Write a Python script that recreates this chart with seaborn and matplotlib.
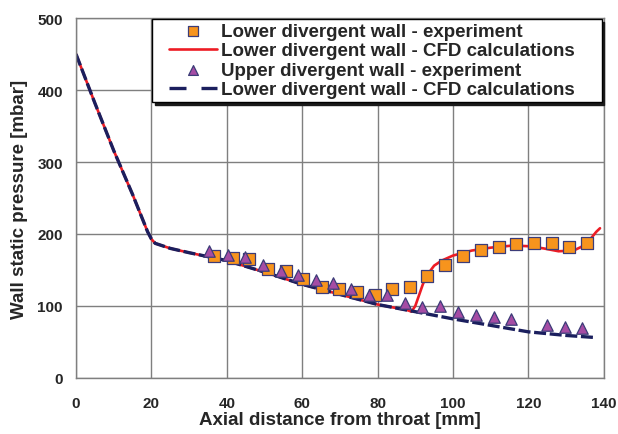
import numpy as np
import pandas as pd
import matplotlib
matplotlib.use("Agg")
import matplotlib.pyplot as plt
import seaborn as sns
from matplotlib.lines import Line2D
from matplotlib.collections import PathCollection
from matplotlib.legend_handler import HandlerLine2D, HandlerPathCollection

# ---- data ----
lower_exp_x = [36.7, 41.6, 45.9, 50.8, 55.7, 60.3, 65.2, 69.8, 74.5, 79.4, 83.8, 88.6,
               93.2, 97.9, 102.7, 107.4, 112.2, 116.8, 121.5, 126.2, 130.8, 135.6]
lower_exp_y = [169, 167, 165, 152, 148, 138, 127, 124, 120, 115, 124, 126,
               142, 157, 169, 178, 182, 186, 187, 187, 182, 187]

upper_exp_x = [35.4, 40.2, 44.8, 49.5, 54.3, 58.8, 63.6, 68.2, 73.0, 77.8, 82.5, 87.2,
               91.8, 96.6, 101.4, 106.1, 110.8, 115.4, 125.0, 129.6, 134.2]
upper_exp_y = [176, 171, 168, 157, 149, 143, 136, 132, 124, 115, 115, 104,
               99, 100, 91, 88, 85, 82, 73, 71, 70]

lower_cfd_x = [0, 5, 10, 15, 19, 20, 21, 25, 30, 40, 50, 60, 70, 80, 88, 89, 90, 91, 92,
               93, 95, 97, 100, 105, 110, 116, 120, 124, 128, 132, 134, 136, 138, 139]
lower_cfd_y = [450, 382, 316, 255, 203, 193, 187, 180, 174, 163, 147, 130, 116, 102, 94, 92,
               100, 115, 130, 142, 156, 163, 170, 177, 181, 184, 183, 180, 176, 177, 182,
               190, 203, 208]

upper_cfd_x = [0, 5, 10, 15, 19, 20, 21, 25, 30, 40, 50, 60, 70, 80, 88, 95, 100, 110,
               120, 130, 138]
upper_cfd_y = [450, 382, 316, 255, 203, 193, 187, 180, 174, 163, 147, 130, 116, 102, 94,
               87, 82, 73, 64, 59, 56]

labels = ["Lower divergent wall - experiment",
          "Lower divergent wall - CFD calculations",
          "Upper divergent wall - experiment",
          "Lower divergent wall - CFD calculations"]

x_ticks = [0, 20, 40, 60, 80, 100, 120, 140]
y_ticks = [0, 100, 200, 300, 400, 500]

# ---- style ----
sns.set_style("white")
plt.rcParams['font.family'] = ['Liberation Sans', 'DejaVu Sans']
plt.rcParams['font.weight'] = 'bold'

RED = '#ED1C24'
NAVY = '#1B1F5E'

fig = plt.figure(figsize=(6.18, 4.35), dpi=100)
ax = fig.add_axes([0.123, 0.129, 0.854, 0.827])

sns.lineplot(x=lower_cfd_x, y=lower_cfd_y, ax=ax, color=RED, linewidth=1.9,
             sort=False, label=labels[1], zorder=2)
sns.lineplot(x=upper_cfd_x, y=upper_cfd_y, ax=ax, color=NAVY, linewidth=2.4,
             sort=False, zorder=2.5, linestyle=(0, (3.6, 1.1)))
sns.scatterplot(x=lower_exp_x, y=lower_exp_y, ax=ax, marker='s', s=64, color='#F7941D',
                edgecolor='#3C3C78', linewidth=0.9, label=labels[0], zorder=3)
sns.scatterplot(x=upper_exp_x, y=upper_exp_y, ax=ax, marker='^', s=68, color='#A54CA4',
                edgecolor='#3C3C78', linewidth=0.9, label=labels[2], zorder=4)

ax.set_xlim(0, 140)
ax.set_ylim(0, 500)
ax.set_xticks(x_ticks)
ax.set_yticks(y_ticks)
ax.grid(True, color='#7F7F7F', linewidth=1.0)
ax.set_axisbelow(True)
for s in ax.spines.values():
    s.set_color('#7F7F7F')
    s.set_linewidth(1.0)
ax.tick_params(axis='both', length=0, labelsize=11)
ax.tick_params(axis='x', pad=13)
ax.tick_params(axis='y', pad=9.5)
for t in ax.get_xticklabels() + ax.get_yticklabels():
    t.set_fontweight('bold')

ax.set_xlabel("Axial distance from throat [mm]", fontsize=13.5, fontweight='bold', labelpad=1)
ax.set_ylabel("Wall static pressure [mbar]", fontsize=13.5, fontweight='bold', labelpad=7)

handles, labs = ax.get_legend_handles_labels()
h_sq = handles[labs.index(labels[0])]
h_red = handles[labs.index(labels[1])]
h_tri = handles[labs.index(labels[2])]
h_dash = Line2D([], [], color=NAVY, linewidth=2.4, linestyle=(0, (5.1, 4.5)))

leg = ax.legend([h_sq, h_red, h_tri, h_dash], labels,
                loc='upper left', bbox_to_anchor=(0.144, 0.0, 0.852, 0.997),
                mode='expand', borderaxespad=0,
                fontsize=13.5, frameon=True, fancybox=False, edgecolor='black',
                framealpha=1, handlelength=3.27, handletextpad=0.21, labelspacing=0.12,
                borderpad=0.2, shadow={'color': '0.1', 'alpha': 1},
                handler_map={Line2D: HandlerLine2D(xpad=0.71),
                             PathCollection: HandlerPathCollection(xpad=0.71,
                                                                   sizes=[50])})
leg.get_frame().set_linewidth(1.0)
for t in leg.get_texts():
    t.set_fontweight('bold')

fig.savefig("out.png", dpi=100)
